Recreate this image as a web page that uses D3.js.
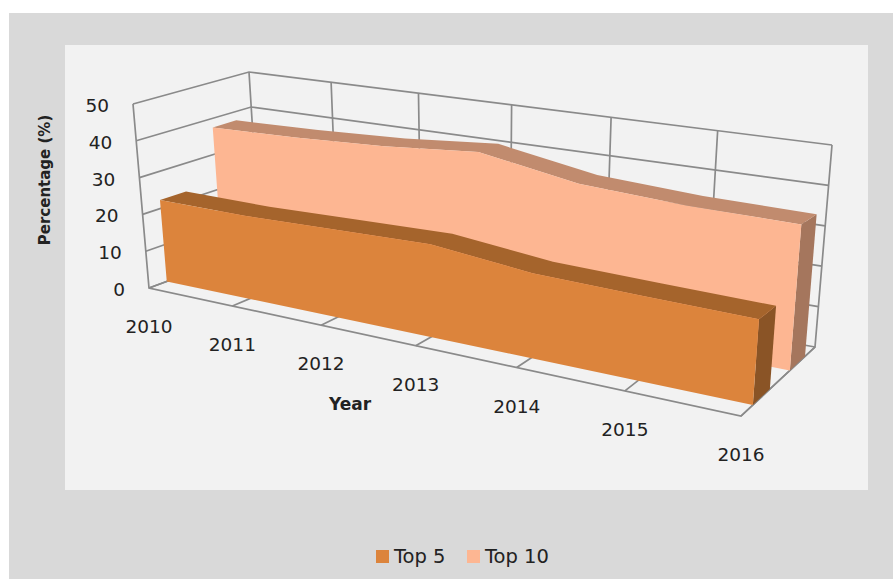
<!DOCTYPE html>
<html><head><meta charset="utf-8">
<script src="https://cdnjs.cloudflare.com/ajax/libs/d3/7.8.5/d3.min.js"></script>
<style>html,body{margin:0;padding:0;background:#fff}svg{display:block}text{font-family:"DejaVu Sans",sans-serif;fill:#222}</style>
</head><body><svg id="c" width="893" height="579"></svg>
<script>
const years = [2010, 2011, 2012, 2013, 2014, 2015, 2016];
const top5 = [22.3, 22, 22.5, 23, 20.3, 19.6, 19];
const top10 = [37.5, 38, 39, 41, 36.5, 35, 34.5];
const valueTicks = [0, 10, 20, 30, 40, 50];
const seriesNames = ["Top 5", "Top 10"];

const svg = d3.select("#c");
svg.append("rect").attr("x", 9).attr("y", 13).attr("width", 884).attr("height", 566).attr("fill", "#d9d9d9");
svg.append("rect").attr("x", 65).attr("y", 45).attr("width", 803).attr("height", 445).attr("fill", "#f2f2f2");

// 3D box corners on screen: floor and top; front/back, left/right
const box = {
  fl: [149, 288], fr: [741, 416], bl: [260, 247], br: [815, 347],
  tfl: [133, 104], tfr: [757, 186], tbl: [249, 72], tbr: [832, 145]
};
const xPoint = d3.scalePoint().domain(years).range([0, 1]);
const persp = 1.22;
const xS = y => { const t = xPoint(y); return t / (t + persp * (1 - t)); };
const yS = d3.scaleLinear().domain([0, 50]).range([0, 1]);
const mix = (a, b, k) => [a[0] + (b[0] - a[0]) * k, a[1] + (b[1] - a[1]) * k];
function project(year, depth, value) {
  const s = xS(year), h = yS(value);
  const bot = mix(mix(box.fl, box.fr, s), mix(box.bl, box.br, s), depth);
  const top = mix(mix(box.tfl, box.tfr, s), mix(box.tbl, box.tbr, s), depth);
  return mix(bot, top, h);
}
const line = d3.line();
const grid = svg.append("g").attr("fill", "none").attr("stroke", "#8a8a8a").attr("stroke-width", 1.7);
const first = years[0], last = years[years.length - 1];
valueTicks.forEach(v => {
  grid.append("path").attr("d", line([project(first, 0, v), project(first, 1, v), project(last, 1, v)]));
});
years.forEach(y => {
  grid.append("path").attr("d", line([project(y, 0, 0), project(y, 1, 0), project(y, 1, 50)]));
});
grid.append("path").attr("d", line([project(first, 0, 50), project(first, 0, 0), project(last, 0, 0), project(last, 1, 0)]));

function drawSeries(values, d0, d1, cFront, cTop, cEnd) {
  const g = svg.append("g");
  const front = years.map((y, i) => project(y, d0, values[i]));
  const back = years.map((y, i) => project(y, d1, values[i]));
  const n = years.length - 1;
  g.append("path").attr("fill", cEnd).attr("d", line([front[n], back[n], project(last, d1, 0), project(last, d0, 0)]) + "Z");
  g.append("path").attr("fill", cTop).attr("d", line(front.concat(back.slice().reverse())) + "Z");
  g.append("path").attr("fill", cFront).attr("d", line(front.concat([project(last, d0, 0), project(first, d0, 0)])) + "Z");
}
drawSeries(top10, 0.66, 0.865, "#fdb692", "#c18b6e", "#a5765d");
drawSeries(top5, 0.16, 0.39, "#dc843c", "#a5642c", "#8a5426");

svg.append("g").selectAll("text").data(valueTicks).join("text")
  .attr("x", d => project(first, 0, d)[0] - 24).attr("y", d => project(first, 0, d)[1] + 8)
  .attr("text-anchor", "end").attr("font-size", 18.5).text(d => d);
svg.append("g").selectAll("text").data(years).join("text")
  .attr("x", d => project(d, 0, 0)[0]).attr("y", d => project(d, 0, 0)[1] + 45)
  .attr("text-anchor", "middle").attr("font-size", 18.5).text(d => d);
svg.append("text").attr("x", 350).attr("y", 410).attr("text-anchor", "middle")
  .attr("font-size", 17).attr("font-weight", "bold").text("Year");
svg.append("text").attr("transform", "translate(50,180) rotate(-90)").attr("text-anchor", "middle")
  .attr("font-size", 15).attr("font-weight", "bold").text("Percentage (%)");

const legendX = d3.scaleOrdinal().domain(seriesNames).range([376, 467]);
const legendC = d3.scaleOrdinal().domain(seriesNames).range(["#dc843c", "#fdb692"]);
const lg = svg.append("g").selectAll("g").data(seriesNames).join("g");
lg.append("rect").attr("x", d => legendX(d)).attr("y", 550).attr("width", 13).attr("height", 13).attr("fill", d => legendC(d));
lg.append("text").attr("x", d => legendX(d) + 18).attr("y", 562.5).attr("font-size", 19.5).text(d => d);
</script></body></html>
